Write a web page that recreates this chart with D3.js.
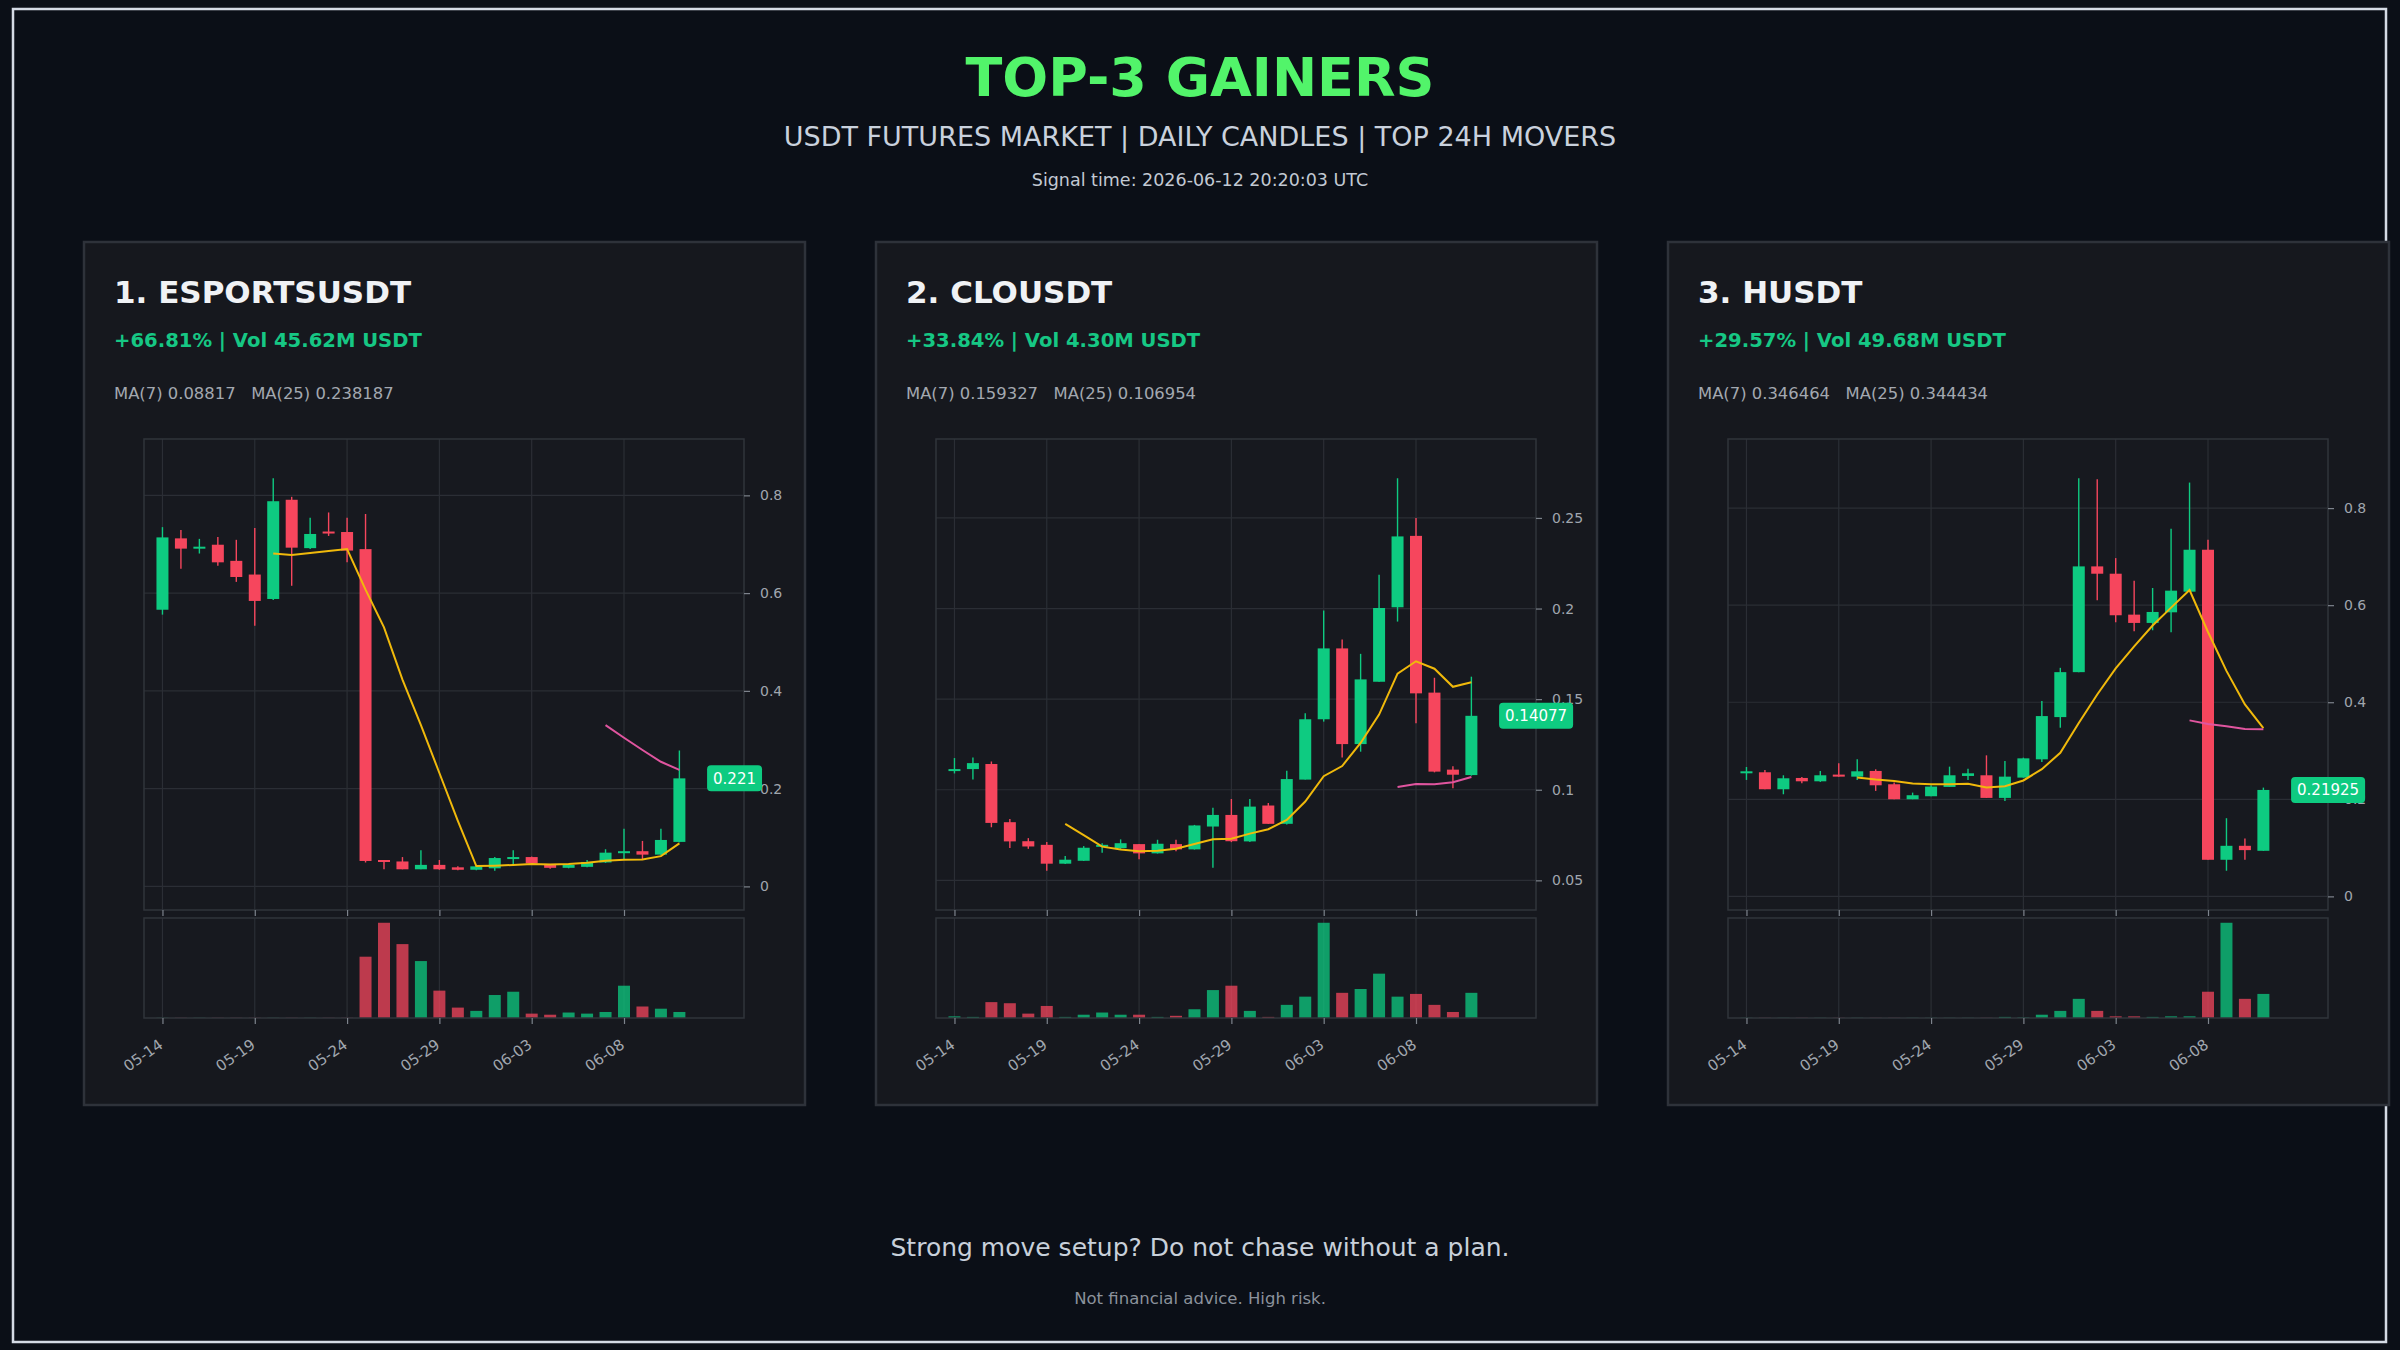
<!DOCTYPE html>
<html>
<head>
<meta charset="utf-8">
<title>Top-3 Gainers</title>
<script src="https://cdn.jsdelivr.net/npm/d3@7/dist/d3.min.js"></script>
<style>
  body { margin: 0; background: #0b0f17; }
  svg text { font-family: "DejaVu Sans", sans-serif; }
</style>
</head>
<body>
<svg id="chart"></svg>
<script>
// ---- data ----
var tickDays = [0, 5, 10, 15, 20, 25];
var tickLabels = ['05-14', '05-19', '05-24', '05-29', '06-03', '06-08'];

var names = ['1. ESPORTSUSDT', '2. CLOUSDT', '3. HUSDT'];
var changeLines = ['+66.81% | Vol 45.62M USDT', '+33.84% | Vol 4.30M USDT', '+29.57% | Vol 49.68M USDT'];
var ma7Labels = ['MA(7) 0.08817', 'MA(7) 0.159327', 'MA(7) 0.346464'];
var ma25Labels = ['MA(25) 0.238187', 'MA(25) 0.106954', 'MA(25) 0.344434'];
var lastPrices = ['0.221', '0.14077', '0.21925'];
var yTicks = [[0, 0.2, 0.4, 0.6, 0.8], [0.05, 0.1, 0.15, 0.2, 0.25], [0, 0.2, 0.4, 0.6, 0.8]];

var esportsOpen  = [0.566,0.712,0.692,0.699,0.666,0.638,0.588,0.791,0.692,0.726,0.725,0.690,0.054,0.051,0.035,0.044,0.039,0.034,0.037,0.056,0.060,0.046,0.038,0.040,0.049,0.068,0.072,0.065,0.091];
var esportsHigh  = [0.735,0.729,0.711,0.715,0.709,0.733,0.835,0.797,0.754,0.765,0.754,0.762,0.054,0.060,0.074,0.054,0.041,0.042,0.060,0.074,0.061,0.046,0.046,0.054,0.076,0.118,0.093,0.118,0.278];
var esportsLow   = [0.556,0.650,0.681,0.656,0.623,0.533,0.586,0.615,0.690,0.717,0.663,0.049,0.035,0.035,0.035,0.034,0.033,0.033,0.032,0.046,0.046,0.036,0.037,0.039,0.048,0.054,0.056,0.064,0.090];
var esportsClose = [0.714,0.691,0.695,0.663,0.633,0.584,0.788,0.693,0.721,0.722,0.687,0.052,0.050,0.035,0.044,0.035,0.034,0.041,0.058,0.060,0.047,0.038,0.044,0.050,0.069,0.072,0.065,0.095,0.221];
var esportsVol   = [0.4,0.4,0.4,0.4,0.4,0.4,0.4,0.4,0.4,0.4,0.4,112,174,135,104,50,19,13,42,48,8,6,10,8,11,59,21,17,11];
var esportsMa7   = [null,null,null,null,null,null,0.681,0.678,0.682,0.686,0.690,0.607,0.530,0.423,0.330,0.232,0.134,0.0416,0.0424,0.0439,0.0456,0.0447,0.046,0.0483,0.0523,0.0543,0.055,0.0619,0.088];
var esportsMa25  = [null,null,null,null,null,null,null,null,null,null,null,null,null,null,null,null,null,null,null,null,null,null,null,null,0.330,0.304,0.279,0.255,0.2382];

var clouOpen  = [0.1103,0.1114,0.1142,0.0821,0.0716,0.0696,0.0592,0.0608,0.0685,0.0678,0.0700,0.0649,0.0700,0.0671,0.0797,0.0861,0.0715,0.0913,0.0812,0.1056,0.1389,0.1780,0.1252,0.1596,0.2007,0.2401,0.1536,0.1111,0.1081];
var clouHigh  = [0.1175,0.1178,0.1156,0.0839,0.0733,0.0711,0.0634,0.0689,0.0705,0.0726,0.0700,0.0724,0.0724,0.0806,0.0900,0.0949,0.0949,0.0927,0.1105,0.1422,0.1989,0.1829,0.1750,0.2187,0.2719,0.2499,0.1618,0.1129,0.1624];
var clouLow   = [0.1090,0.1056,0.0793,0.0678,0.0674,0.0553,0.0590,0.0607,0.0652,0.0674,0.0616,0.0648,0.0660,0.0670,0.0570,0.0711,0.0711,0.0812,0.0808,0.1056,0.1376,0.1178,0.1210,0.1596,0.1928,0.1367,0.1096,0.1008,0.1078];
var clouClose = [0.1114,0.1147,0.0817,0.0715,0.0687,0.0592,0.0614,0.0680,0.0696,0.0705,0.0649,0.0702,0.0671,0.0803,0.0861,0.0716,0.0907,0.0812,0.1059,0.1389,0.1780,0.1252,0.1609,0.2003,0.2398,0.1532,0.1100,0.1083,0.1408];
var clouVol   = [3,2,29,27,8,22,2,6,10,6,6,2,4,16,51,59,13,2,24,39,174,46,53,81,39,44,24,11,46];
var clouMa7   = [null,null,null,null,null,null,0.0812,0.0750,0.0686,0.0670,0.0660,0.0663,0.0674,0.0701,0.0727,0.0730,0.0758,0.0782,0.0833,0.0935,0.1075,0.1131,0.1258,0.1415,0.1641,0.1709,0.1668,0.1568,0.1593];
var clouMa25  = [null,null,null,null,null,null,null,null,null,null,null,null,null,null,null,null,null,null,null,null,null,null,null,null,0.1015,0.1032,0.1030,0.1041,0.1070];

var hOpen  = [0.2536,0.2557,0.2207,0.2440,0.2371,0.2509,0.2467,0.2584,0.2310,0.2001,0.2063,0.2255,0.2481,0.2495,0.2029,0.2447,0.2824,0.3694,0.4620,0.6799,0.6648,0.5805,0.5634,0.5853,0.6278,0.7142,0.0754,0.1042,0.0939];
var hHigh  = [0.2666,0.2605,0.2495,0.2461,0.2584,0.2742,0.2824,0.2618,0.2344,0.2138,0.2289,0.2673,0.2632,0.2906,0.2790,0.2858,0.4023,0.4709,0.8615,0.8595,0.6970,0.6504,0.6354,0.7574,0.8526,0.7348,0.1611,0.1193,0.2241];
var hLow   = [0.2399,0.2207,0.2104,0.2330,0.2358,0.2467,0.2399,0.2173,0.2001,0.2001,0.2063,0.2255,0.2399,0.2029,0.1967,0.2447,0.2769,0.3475,0.4620,0.6100,0.5648,0.5463,0.5483,0.5442,0.6278,0.0754,0.0528,0.0754,0.0939];
var hClose = [0.2577,0.2207,0.2433,0.2371,0.2495,0.2467,0.2577,0.2289,0.2001,0.2084,0.2262,0.2495,0.2536,0.2029,0.2467,0.2844,0.3715,0.4620,0.6799,0.6648,0.5792,0.5634,0.5860,0.6299,0.7142,0.0754,0.1042,0.0953,0.2193];
var hVol   = [0.4,0.4,0.4,0.4,0.4,0.4,0.4,0.4,0.4,0.4,0.4,0.4,0.4,0.4,2,1,6,13,35,13,3,3,2,3,3,48,174,35,44];
var hMa7   = [null,null,null,null,null,null,0.2447,0.2406,0.2376,0.2326,0.2311,0.2311,0.2321,0.2242,0.2268,0.2388,0.2621,0.2958,0.3573,0.4160,0.4698,0.5150,0.5581,0.5950,0.6311,0.5447,0.4646,0.3955,0.3465];
var hMa25  = [null,null,null,null,null,null,null,null,null,null,null,null,null,null,null,null,null,null,null,null,null,null,null,null,0.3626,0.3553,0.3506,0.3447,0.3444];

var coins = [
  {open: esportsOpen, high: esportsHigh, low: esportsLow, close: esportsClose, vol: esportsVol, ma7: esportsMa7, ma25: esportsMa25},
  {open: clouOpen, high: clouHigh, low: clouLow, close: clouClose, vol: clouVol, ma7: clouMa7, ma25: clouMa25},
  {open: hOpen, high: hHigh, low: hLow, close: hClose, vol: hVol, ma7: hMa7, ma25: hMa25}
];

var UP = '#0ecb81', DOWN = '#f6465d';

var svg = d3.select('#chart').attr('width', 2400).attr('height', 1350);
svg.append('rect').attr('width', 2400).attr('height', 1350).attr('fill', '#0b0f17');
svg.append('rect')
   .attr('x', 13).attr('y', 9).attr('width', 2373).attr('height', 1333)
   .attr('fill', 'none').attr('stroke', '#d5dbe5').attr('stroke-width', 2.5);

svg.append('text').text('TOP-3 GAINERS')
   .attr('x', 1200).attr('y', 96).attr('text-anchor', 'middle')
   .attr('font-size', 54).attr('font-weight', 'bold').attr('fill', '#52f46a');
svg.append('text').text('USDT FUTURES MARKET | DAILY CANDLES | TOP 24H MOVERS')
   .attr('x', 1200).attr('y', 146).attr('text-anchor', 'middle')
   .attr('font-size', 27).attr('fill', '#c9d1dd');
svg.append('text').text('Signal time: 2026-06-12 20:20:03 UTC')
   .attr('x', 1200).attr('y', 186).attr('text-anchor', 'middle')
   .attr('font-size', 17.5).attr('fill', '#c2c9d3');
svg.append('text').text('Strong move setup? Do not chase without a plan.')
   .attr('x', 1200).attr('y', 1256).attr('text-anchor', 'middle')
   .attr('font-size', 25).attr('fill', '#c8d0da');
svg.append('text').text('Not financial advice. High risk.')
   .attr('x', 1200).attr('y', 1304).attr('text-anchor', 'middle')
   .attr('font-size', 16.5).attr('fill', '#8b929c');

coins.forEach(function(c, k) {
  var g = svg.append('g').attr('transform', 'translate(' + (84 + k * 792) + ',0)');

  g.append('rect')
   .attr('x', 0).attr('y', 242).attr('width', 721).attr('height', 863)
   .attr('fill', '#16181e').attr('stroke', '#2e323a').attr('stroke-width', 2.5);

  g.append('text').text(names[k])
   .attr('x', 30).attr('y', 303).attr('font-size', 31).attr('font-weight', 'bold').attr('fill', '#f0f2f5');
  g.append('text').text(changeLines[k])
   .attr('x', 30).attr('y', 347).attr('font-size', 19.6).attr('font-weight', 'bold').attr('fill', '#16c784');
  g.append('text').text(ma7Labels[k] + '\u00a0\u00a0\u00a0' + ma25Labels[k])
   .attr('x', 30).attr('y', 399).attr('font-size', 16.4).attr('fill', '#a3a8b0');

  var n = c.close.length;
  var x = d3.scaleLinear().domain([-1, 31.5]).range([60, 660]);
  var lo = d3.min(c.low), hi = d3.max(c.high), pad = (hi - lo) * 0.1;
  var y = d3.scaleLinear().domain([lo - pad, hi + pad]).range([910, 439]);
  var yv = d3.scaleLinear().domain([0, d3.max(c.vol) * 1.05]).range([1018, 918]);
  var bw = (x(1) - x(0)) * 0.65;
  var idx = d3.range(n);

  // plot backgrounds + grid
  g.append('rect').attr('x', 60).attr('y', 439).attr('width', 600).attr('height', 471).attr('fill', '#17191f');
  g.append('rect').attr('x', 60).attr('y', 918).attr('width', 600).attr('height', 100).attr('fill', '#17191f');

  g.selectAll('.hgrid').data(yTicks[k]).enter().append('line')
   .attr('x1', 60).attr('x2', 660)
   .attr('y1', function(d) { return y(d); }).attr('y2', function(d) { return y(d); })
   .attr('stroke', '#2b2e35').attr('stroke-width', 1.2);
  [[439, 910], [918, 1018]].forEach(function(r) {
    g.selectAll(null).data(tickDays).enter().append('line')
     .attr('x1', function(d) { return x(d); }).attr('x2', function(d) { return x(d); })
     .attr('y1', r[0]).attr('y2', r[1])
     .attr('stroke', '#2b2e35').attr('stroke-width', 1.2);
  });

  // volume
  g.selectAll('.vol').data(idx).enter().append('rect')
   .attr('x', function(i) { return x(i) - bw / 2; })
   .attr('width', bw)
   .attr('y', function(i) { return yv(c.vol[i]); })
   .attr('height', function(i) { return 1018 - yv(c.vol[i]); })
   .attr('fill', function(i) { return c.close[i] >= c.open[i] ? UP : DOWN; })
   .attr('opacity', 0.75);

  // candles
  g.selectAll('.wick').data(idx).enter().append('line')
   .attr('x1', function(i) { return x(i); }).attr('x2', function(i) { return x(i); })
   .attr('y1', function(i) { return y(c.high[i]); }).attr('y2', function(i) { return y(c.low[i]); })
   .attr('stroke', function(i) { return c.close[i] >= c.open[i] ? UP : DOWN; })
   .attr('stroke-width', 1.4);
  g.selectAll('.body').data(idx).enter().append('rect')
   .attr('x', function(i) { return x(i) - bw / 2; })
   .attr('width', bw)
   .attr('y', function(i) { return y(Math.max(c.open[i], c.close[i])); })
   .attr('height', function(i) { return Math.max(2, Math.abs(y(c.open[i]) - y(c.close[i]))); })
   .attr('fill', function(i) { return c.close[i] >= c.open[i] ? UP : DOWN; });

  // moving averages
  var line = function(arr) {
    return d3.line()
      .defined(function(i) { return arr[i] != null; })
      .x(function(i) { return x(i); })
      .y(function(i) { return y(arr[i]); })(idx);
  };
  g.append('path').attr('d', line(c.ma7)).attr('fill', 'none').attr('stroke', '#f0b90b').attr('stroke-width', 2);
  g.append('path').attr('d', line(c.ma25)).attr('fill', 'none').attr('stroke', '#e0559f').attr('stroke-width', 2);

  // spines
  g.append('rect').attr('x', 60).attr('y', 439).attr('width', 600).attr('height', 471)
   .attr('fill', 'none').attr('stroke', '#30343b').attr('stroke-width', 1.5);
  g.append('rect').attr('x', 60).attr('y', 918).attr('width', 600).attr('height', 100)
   .attr('fill', 'none').attr('stroke', '#30343b').attr('stroke-width', 1.5);

  // axes
  var yAxis = g.append('g').attr('transform', 'translate(660,0)')
   .call(d3.axisRight(y).tickValues(yTicks[k]).tickFormat(d3.format('~g')).tickSize(6).tickPadding(10));
  var xTop = g.append('g').attr('transform', 'translate(0,910)')
   .call(d3.axisBottom(x).tickValues(tickDays).tickFormat('').tickSize(6));
  var xAxis = g.append('g').attr('transform', 'translate(0,1018)')
   .call(d3.axisBottom(x).tickValues(tickDays).tickFormat(function(d, i) { return tickLabels[i]; }).tickSize(6));
  [yAxis, xTop, xAxis].forEach(function(a) {
    a.select('.domain').remove();
    a.selectAll('.tick line').attr('stroke', '#7d838c').attr('stroke-width', 1.2);
    a.selectAll('.tick text').attr('fill', '#a0a6ae').attr('font-size', 14)
     .attr('font-family', '"DejaVu Sans", sans-serif');
  });
  xAxis.selectAll('.tick text')
   .attr('font-size', 15)
   .attr('text-anchor', 'end').attr('dy', 0).attr('y', 0)
   .attr('transform', 'translate(1,29) rotate(-35)');

  // last price badge
  var last = c.close[n - 1];
  var badge = g.append('g');
  var bt = badge.append('text').text(lastPrices[k])
   .attr('x', x(29.5) + 6).attr('y', y(last)).attr('dy', '0.36em')
   .attr('font-size', 15).attr('fill', '#ffffff');
  var tw = bt.node().getComputedTextLength();
  badge.insert('rect', 'text')
   .attr('x', x(29.5)).attr('y', y(last) - 13).attr('width', tw + 12).attr('height', 26)
   .attr('rx', 4).attr('fill', '#0ecb81');
});
</script>
</body>
</html>
